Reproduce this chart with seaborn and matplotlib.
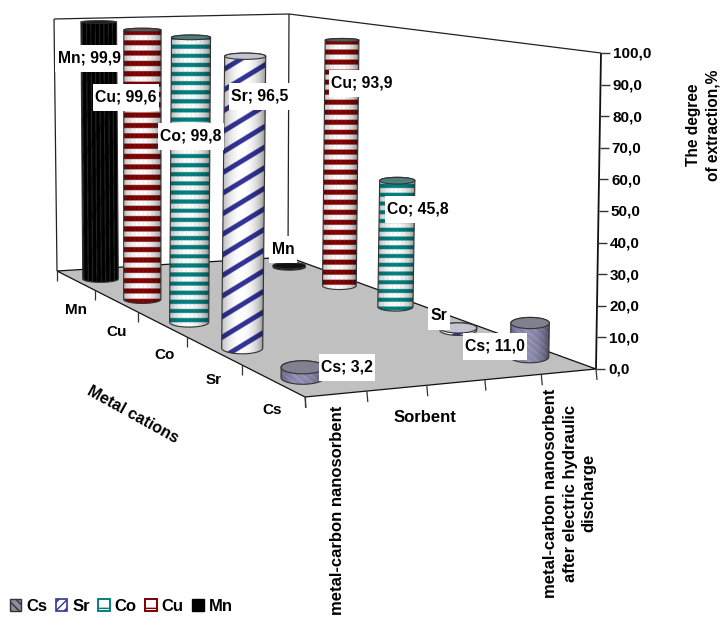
import numpy as np
import pandas as pd
import matplotlib
matplotlib.use("Agg")
import matplotlib.pyplot as plt
import seaborn as sns
from matplotlib.patches import PathPatch, Ellipse, Patch, Rectangle
from matplotlib.path import Path

# ---------- data ----------
cations = ["Mn", "Cu", "Co", "Sr", "Cs"]
sorbent_slots = ["metal-carbon nanosorbent", "", "Sorbent", "",
                 "metal-carbon nanosorbent\nafter electric hydraulic\ndischarge"]
values_nanosorbent = [99.9, 99.6, 99.8, 96.5, 3.2]
values_discharge = [0.5, 93.9, 45.8, 0.8, 11.0]
label_nanosorbent = ["Mn; 99,9", "Cu; 99,6", "Co; 99,8", "Sr; 96,5", "Cs; 3,2"]
label_discharge = ["Mn", "Cu; 93,9", "Co; 45,8", "Sr", "Cs; 11,0"]
z_ticks = [0, 10, 20, 30, 40, 50, 60, 70, 80, 90, 100]
z_tick_labels = ["0,0", "10,0", "20,0", "30,0", "40,0", "50,0", "60,0", "70,0", "80,0", "90,0", "100,0"]
legend_order = ["Cs", "Sr", "Co", "Cu", "Mn"]

# ---------- style ----------
sns.set_theme(style="white")
plt.rcParams["font.family"] = ["Liberation Sans", "DejaVu Sans"]
plt.rcParams["font.weight"] = "bold"
plt.rcParams["text.color"] = "black"
FS = 11
palette = dict(zip(cations, sns.color_palette(["#000000", "#800000", "#008080", "#333399", "#8C8CA2"])))
top_face = {"Mn": "#111111", "Cu": "#6e5252", "Co": "#4f7d7d", "Sr": "#c4c4d0", "Cs": "#80808f"}

# ---------- projection of chart coordinates to the picture ----------
def homography(src, dst):
    M, b = [], []
    for (u, v), (x, y) in zip(src, dst):
        M.append([u, v, 1, 0, 0, 0, -u * x, -v * x]); b.append(x)
        M.append([0, 0, 0, u, v, 1, -u * y, -v * y]); b.append(y)
    h = np.linalg.solve(np.array(M, float), np.array(b, float))
    return np.append(h, 1).reshape(3, 3)

unit = [(0, 0), (1, 0), (0, 1), (1, 1)]
H_floor = homography(unit, [(305, 397), (596, 369), (57, 271), (288, 257)])
H_top = homography(unit, [(309, 62), (601, 53), (54, 19), (289, 14)])

def apply(H, u, v):
    p = H @ np.array([u, v, 1.0])
    return p[:2] / p[2]

def project(u, v, z=0.0):
    a, b = apply(H_floor, u, v), apply(H_top, u, v)
    return a + (b - a) * z / 100.0

# ---------- canvas ----------
fig = plt.figure(figsize=(7.21, 6.19), dpi=100)
ax = fig.add_axes([0, 0, 1, 1])
ax.set_axis_off()
ax.set_xlim(0, 721)
ax.set_ylim(619, 0)
LINE = "#222222"

# walls and floor
P = {k: project(*k) for k in [(0, 1, 0), (1, 1, 0), (1, 0, 0), (0, 0, 0), (0, 1, 100), (1, 1, 100), (1, 0, 100)]}
def seg(a, b, lw=0.9, color=LINE, z=1):
    ax.plot([a[0], b[0]], [a[1], b[1]], color=color, lw=lw, zorder=z, solid_capstyle="butt")

floor = np.array([P[(0, 0, 0)], P[(1, 0, 0)], P[(1, 1, 0)], P[(0, 1, 0)]])
seg(P[(0, 1, 0)], P[(0, 1, 100)])
seg(P[(0, 1, 100)], P[(1, 1, 100)])
seg(P[(1, 1, 100)], P[(1, 0, 100)])
seg(P[(1, 1, 100)], P[(1, 1, 0)])
ax.fill(floor[:, 0], floor[:, 1], facecolor="#C0C0C0", edgecolor="#111111", lw=0.9, zorder=2)

# right value axis
seg(P[(1, 0, 0)], P[(1, 0, 100)], lw=1.3, color="#111111", z=3)
for t, lab in zip(z_ticks, z_tick_labels):
    p = project(1, 0, t)
    seg(p, p + np.array([9, 0]), lw=1.0, color="#333333", z=3)
    ax.text(p[0] + 12, p[1] + 1, lab, ha="left", va="center", fontsize=FS)
ax.text(703, 125, "The degree\nof extraction,%", rotation=90, ha="center", va="center",
        fontsize=11.2, multialignment="center", linespacing=1.4)

# floor edge ticks
for i in range(6):
    p = project(i / 5, 0)
    seg(p, p + np.array([1, 11]), lw=0.9, color="#333333", z=3)
for j in range(6):
    p = project(0, j / 5)
    seg(p, p + np.array([0, 10]), lw=0.9, color="#333333", z=3)

# axis texts
for name, (x, y) in zip(cations, [(76, 310), (117, 332), (165, 355), (214, 380), (272, 410)]):
    ax.text(x, y, name, ha="center", va="center", fontsize=FS)
ax.text(133, 415, "Metal cations", rotation=-29, ha="center", va="center", fontsize=11.5, rotation_mode="anchor")
ax.text(425, 418, sorbent_slots[2], ha="center", va="center", fontsize=12)
ax.text(337, 406, sorbent_slots[0], rotation=90, ha="center", va="top", fontsize=12)
ax.text(570, 493, sorbent_slots[4], rotation=90, ha="center", va="center", fontsize=12,
        multialignment="center", linespacing=1.35)

# ---------- cylinders ----------
def pattern(name, X, Y, period_scale):
    """Return an array in [0,1] with 1 where the series colour is printed."""
    if name == "Cu":
        return ((Y / (10.3 * period_scale)) % 1 < 0.5).astype(float)
    if name == "Co":
        return ((Y / (8.6 * period_scale)) % 1 < 0.46).astype(float)
    if name == "Sr":
        return (((Y + 0.62 * X) / 20.5) % 1 < 0.28).astype(float)
    if name == "Cs":
        return (((Y - 0.8 * X) / 7.0) % 1 < 0.25).astype(float)
    return np.ones_like(X)

def cylinder(name, u, v, value, z):
    base = project(u, v, 0)
    top = project(u, v, value)
    w = abs(apply(H_floor, u + 0.072, v)[0] - apply(H_floor, u - 0.072, v)[0])
    rx = w / 2
    ratio_base = 0.18 + 0.14 * (1 - v)
    ratio_top = ratio_base - 0.13 * value / 100
    ry0, ry1 = rx * ratio_base, rx * ratio_top

    t = np.linspace(0, np.pi, 50)
    low = np.c_[base[0] - rx * np.cos(t), base[1] + ry0 * np.sin(t)]
    up = np.c_[top[0] + rx * np.cos(t), top[1] - ry1 * np.sin(t)]
    verts = np.vstack([low, up, low[:1]])
    body = PathPatch(Path(verts), facecolor="none", edgecolor="#333333", lw=0.8, zorder=z + 0.2)
    ax.add_patch(body)

    x0, x1 = min(base[0], top[0]) - rx - 1, max(base[0], top[0]) + rx + 1
    y0, y1 = top[1] - ry1 - 1, base[1] + ry0 + 1
    xs = np.arange(x0, x1, 0.25)
    ys = np.arange(y0, y1, 0.25)
    X, Y = np.meshgrid(xs, ys)
    height_scale = np.hypot(*(project(u, v, 100) - project(u, v, 0))) / 270
    cx = base[0] + (top[0] - base[0]) * (base[1] - Y) / max(base[1] - top[1], 1e-6)
    s = np.clip((X - cx) / rx, -1, 1)
    shade = 0.55 + 0.45 * np.clip(np.cos((s + 0.12) * np.pi / 2.1), 0, 1) ** 0.6
    pat = pattern(name, X, Y, height_scale)
    col = np.array(palette[name])
    if name == "Cs":
        bgc, fgc = np.array(col), np.array([0.60, 0.60, 0.88])
        shade = 0.55 + 0.45 * np.clip(np.cos((s + 0.12) * np.pi / 2.1), 0, 1) ** 0.7
    elif name == "Mn":
        bgc, fgc = np.array([0.0, 0.0, 0.0]), col
    else:
        bgc, fgc = np.array([1.0, 1.0, 1.0]), col
    img = bgc[None, None, :] * (1 - pat[..., None]) + fgc[None, None, :] * pat[..., None]
    img = np.clip(img * shade[..., None], 0, 1)
    # facets of the cylinder surface
    if name in ("Cu", "Co", "Mn"):
        facet = (((X - cx) / 4.3) % 1 < 0.16)[..., None]
        img = np.where(facet, img * 0.8 + (0.45 if name == "Mn" else 0.2) * 0.5, img)
    im = ax.imshow(img, extent=(x0, x1, y1, y0), origin="upper", aspect="auto", zorder=z, interpolation="bilinear")
    im.set_clip_path(body)

    ax.add_patch(Ellipse(top, 2 * rx, 2 * ry1, facecolor=top_face[name], edgecolor="#333333", lw=0.8, zorder=z + 0.3))

order = []
for col_idx, vals in [(0, values_nanosorbent), (4, values_discharge)]:
    for j, (name, val) in enumerate(zip(cations, vals)):
        order.append(dict(cation=name, u=(col_idx + 0.5) / 5, v=1 - (j + 0.5) / 5, value=val))
df = pd.DataFrame(order).sort_values(["v", "u"], ascending=[False, True]).reset_index(drop=True)
for k, row in df.iterrows():
    cylinder(row["cation"], row["u"], row["v"], row["value"], 5 + k)
ax.set_xlim(0, 721)
ax.set_ylim(619, 0)

# ---------- data labels ----------
label_xy = dict(zip(label_nanosorbent + label_discharge,
                    [(89, 58), (126, 97), (191, 136), (260, 96), (347, 367),
                     (283, 249), (362, 83), (418, 209), (439, 316), (495, 346)]))
renderer = fig.canvas.get_renderer()
inv = ax.transData.inverted()
for txt, (x, y) in label_xy.items():
    lab = ax.text(x, y, txt, ha="center", va="center", fontsize=11.3, zorder=41)
    bb = lab.get_window_extent(renderer)
    (xa, ya), (xb, yb) = inv.transform([(bb.x0, bb.y0), (bb.x1, bb.y1)])
    hw = abs(xb - xa) / 2 + 2.5
    ax.add_patch(Rectangle((x - hw, y - 13.5), 2 * hw, 27, facecolor="white", edgecolor="none", zorder=40))

# ---------- legend ----------
handles = [
    Patch(facecolor="#8C8CA2", edgecolor="#333333", hatch="\\\\\\\\", lw=1.0, label="Cs"),
    Patch(facecolor="white", edgecolor="#333399", hatch="////", lw=1.2, label="Sr"),
    Patch(facecolor="white", edgecolor="#008080", hatch="-", lw=1.4, label="Co"),
    Patch(facecolor="white", edgecolor="#800000", hatch="-", lw=1.4, label="Cu"),
    Patch(facecolor="black", edgecolor="black", label="Mn"),
]
leg = ax.legend(handles=handles, labels=legend_order, ncol=5, frameon=False, fontsize=12,
                loc="lower left", bbox_to_anchor=(-0.005, -0.013), handlelength=0.68, handleheight=0.8,
                handletextpad=0.3, columnspacing=0.52, borderpad=0.3)
leg.set_zorder(50)
sns.despine(ax=ax, left=True, bottom=True)
fig.savefig("out.png", dpi=100)
